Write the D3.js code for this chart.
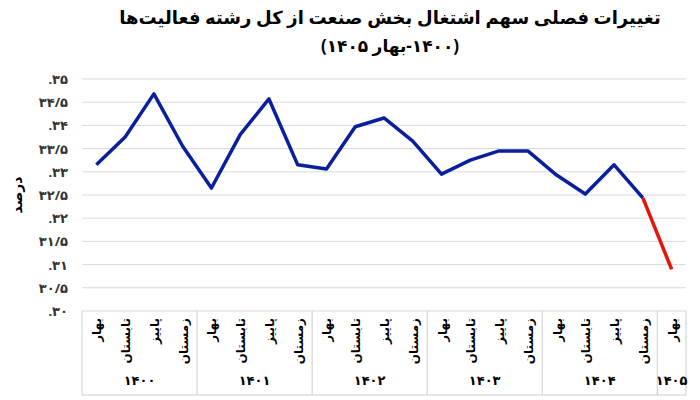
<!DOCTYPE html><html><head><meta charset="utf-8"><script src="https://cdn.jsdelivr.net/npm/d3@7"></script>
<style>body{margin:0;background:#fff}text{font-family:"Noto Sans","DejaVu Sans",sans-serif}</style></head><body><svg id="c" width="700" height="400"></svg>
<script>
const seasons=["بهار","تابستان","پاییز","زمستان"];
const years=["۱۴۰۰","۱۴۰۱","۱۴۰۲","۱۴۰۳","۱۴۰۴","۱۴۰۵"];
const values=[33.15,33.75,34.68,33.55,32.65,33.8,34.57,33.15,33.06,33.97,34.16,33.66,32.95,33.25,33.45,33.45,32.93,32.52,33.15,32.44,30.9];
const yTicks=[30,30.5,31,31.5,32,32.5,33,33.5,34,34.5,35];
const yTickLabels=[".۳۰","۳۰/۵",".۳۱","۳۱/۵",".۳۲","۳۲/۵",".۳۳","۳۳/۵",".۳۴","۳۴/۵",".۳۵"];
const cats=values.map((v,i)=>i);
const svg=d3.select("#c");
const x=d3.scaleBand().domain(cats).range([82,686]);
const y=d3.scaleLinear().domain([30,35]).range([311,79]);
svg.append("g").selectAll("line").data(yTicks).join("line").attr("x1",82).attr("x2",686).attr("y1",d=>y(d)).attr("y2",d=>y(d)).attr("stroke","#d9d9d9");
svg.append("g").selectAll("text").data(yTicks).join("text").attr("x",68).attr("y",d=>y(d)+5).attr("text-anchor","end").attr("font-size",13).attr("font-weight","bold").attr("fill","#333").attr("direction","ltr").text((d,i)=>yTickLabels[i]);
svg.append("text").attr("transform","translate(22,195) rotate(-90)").attr("text-anchor","middle").attr("font-size",14).attr("font-weight","bold").text("درصد");
// category axis
const g=svg.append("g");
g.append("line").attr("x1",82).attr("x2",686).attr("y1",395).attr("y2",395).attr("stroke","#ccc");
g.append("line").attr("x1",686).attr("x2",686).attr("y1",311).attr("y2",395).attr("stroke","#ccc");
for(let k=0;k<=5;k++){const xx=x(k*4);g.append("line").attr("x1",xx).attr("x2",xx).attr("y1",311).attr("y2",395).attr("stroke","#ccc");}
cats.forEach(i=>{g.append("text").attr("transform",`translate(${x(i)+x.bandwidth()/2+5},318) rotate(-90)`).attr("text-anchor","end").attr("font-size",12).attr("font-weight","bold").text(seasons[i%4]);});
years.forEach((yr,k)=>{const s=k*4,e=Math.min(s+3,20);const cx=(x(s)+x(e)+x.bandwidth())/2;g.append("text").attr("x",cx).attr("y",385).attr("text-anchor","middle").attr("font-size",13).attr("font-weight","bold").text(yr);});
const line=d3.line().x(i=>x(i)+x.bandwidth()/2).y(i=>y(values[i]));
svg.append("path").attr("d",line(cats.slice(0,20))).attr("fill","none").attr("stroke","#0a1f9c").attr("stroke-width",3.5).attr("stroke-linejoin","round");
svg.append("path").attr("d",line([19,20])).attr("fill","none").attr("stroke","#e8140c").attr("stroke-width",3.5);
svg.append("text").attr("x",390).attr("y",24).attr("text-anchor","middle").attr("font-size",18).attr("font-weight","bold").text("تغییرات فصلی سهم اشتغال بخش صنعت از کل رشته فعالیت‌ها");
svg.append("text").attr("x",390).attr("y",52).attr("text-anchor","middle").attr("font-size",17).attr("font-weight","bold").attr("direction","rtl").text("(۱۴۰۰-بهار ۱۴۰۵)");
</script></body></html>
